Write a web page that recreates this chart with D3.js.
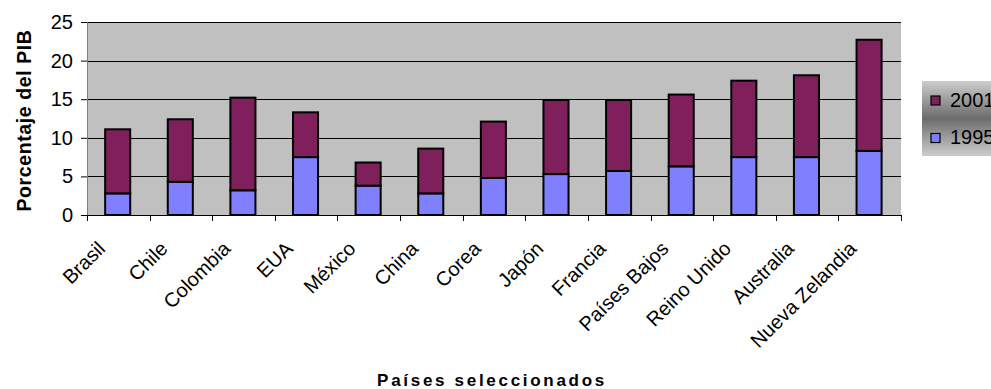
<!DOCTYPE html>
<html>
<head>
<meta charset="utf-8">
<script src="https://cdn.jsdelivr.net/npm/d3@7"></script>
<style>
  html, body { margin: 0; padding: 0; background: #fff; overflow: hidden; }
  svg { display: block; font-family: "Liberation Sans", Arial, sans-serif; }
</style>
</head>
<body>
<svg id="chart" width="991" height="389"></svg>
<script>
// Países y gasto como porcentaje del PIB
const countries = ["Brasil", "Chile", "Colombia", "EUA", "México", "China", "Corea",
  "Japón", "Francia", "Países Bajos", "Reino Unido", "Australia", "Nueva Zelandia"];
// Tramo inferior (1995)
const values1995 = [2.8, 4.3, 3.2, 7.5, 3.8, 2.8, 4.8, 5.3, 5.7, 6.3, 7.5, 7.5, 8.3];
// Tramo superior apilado (2001)
const values2001 = [8.3, 8.1, 12.0, 5.8, 3.0, 5.8, 7.3, 9.6, 9.2, 9.3, 9.9, 10.6, 14.4];
const yTicks = [0, 5, 10, 15, 20, 25];
const seriesKeys = ["1995", "2001"];
const legendOrder = ["2001", "1995"];
const colors = { "1995": "#8080ff", "2001": "#7f1f5c" };

const svg = d3.select("#chart");
const plot = { left: 87, right: 901, top: 22, bottom: 215 };

const rows = countries.map((c, i) => ({ country: c, "1995": values1995[i], "2001": values2001[i] }));
const stacked = d3.stack().keys(seriesKeys)(rows);

const x = d3.scaleBand().domain(countries).range([plot.left, plot.right]).padding(0);
const y = d3.scaleLinear().domain([0, 25]).range([plot.bottom, plot.top]);

// Fondo del área de trazado
svg.append("rect")
  .attr("x", plot.left).attr("y", plot.top)
  .attr("width", plot.right - plot.left).attr("height", plot.bottom - plot.top)
  .attr("fill", "#c0c0c0");

// Líneas de cuadrícula
svg.append("g").selectAll("line").data(yTicks.filter(d => d > 0)).join("line")
  .attr("x1", plot.left).attr("x2", plot.right)
  .attr("y1", d => Math.round(y(d)) + 0.5).attr("y2", d => Math.round(y(d)) + 0.5)
  .attr("stroke", "#000").attr("stroke-width", 1);

// Eje Y
const yAxis = svg.append("g")
  .attr("transform", `translate(${plot.left},0)`)
  .call(d3.axisLeft(y).tickValues(yTicks).tickSize(6).tickPadding(8).tickFormat(d3.format("d")));
yAxis.select(".domain").attr("stroke", "#808080");
yAxis.selectAll(".tick line").attr("stroke", "#000");
yAxis.selectAll(".tick text").attr("font-size", 20).attr("fill", "#000")
  .attr("font-family", "Liberation Sans, Arial, sans-serif");

// Barras apiladas
svg.append("g").selectAll("g").data(stacked).join("g")
  .attr("fill", d => colors[d.key])
  .selectAll("rect").data(d => d).join("rect")
    .attr("x", d => x(d.data.country) + x.bandwidth() * 0.29)
    .attr("width", x.bandwidth() * 0.4)
    .attr("y", d => y(d[1]))
    .attr("height", d => y(d[0]) - y(d[1]))
    .attr("stroke", "#000").attr("stroke-width", 2);

// Eje X
const xAxis = svg.append("g")
  .attr("transform", `translate(0,${plot.bottom})`);
xAxis.append("line")
  .attr("x1", plot.left).attr("x2", plot.right).attr("y1", 0.5).attr("y2", 0.5)
  .attr("stroke", "#000");
const boundaries = countries.map(c => x(c)).concat([plot.right]);
xAxis.selectAll("line.tk").data(boundaries).join("line").attr("class", "tk")
  .attr("x1", d => Math.round(d) + 0.5).attr("x2", d => Math.round(d) + 0.5)
  .attr("y1", 0).attr("y2", 6).attr("stroke", "#000");
xAxis.selectAll("text").data(countries).join("text")
  .attr("transform", d => `translate(${x(d) + x.bandwidth() / 2 - 12},${35}) rotate(-45)`)
  .attr("text-anchor", "end")
  .attr("font-size", 20)
  .attr("fill", "#000")
  .text(d => d);

// Títulos de ejes
svg.append("text")
  .attr("transform", `translate(31,${(plot.top + plot.bottom) / 2 + 2}) rotate(-90)`)
  .attr("text-anchor", "middle")
  .attr("font-size", 19.5).attr("font-weight", "bold")
  .attr("letter-spacing", 0.6)
  .text("Porcentaje del PIB");

svg.append("text")
  .attr("x", 492).attr("y", 386)
  .attr("text-anchor", "middle")
  .attr("font-size", 17).attr("font-weight", "bold")
  .attr("letter-spacing", 2.7)
  .text("Países seleccionados");

// Leyenda
const defs = svg.append("defs");
const grad = defs.append("linearGradient").attr("id", "legendFill")
  .attr("x1", 0).attr("y1", 0).attr("x2", 0).attr("y2", 1);
grad.append("stop").attr("offset", "0%").attr("stop-color", "#cdcdcd");
grad.append("stop").attr("offset", "50%").attr("stop-color", "#6c6c6c");
grad.append("stop").attr("offset", "100%").attr("stop-color", "#cdcdcd");

const legend = svg.append("g").attr("transform", "translate(922,81)");
legend.append("rect").attr("width", 90).attr("height", 75).attr("fill", "url(#legendFill)");
const item = legend.selectAll("g").data(legendOrder).join("g")
  .attr("transform", (d, i) => `translate(9,${15 + i * 37.5})`);
item.append("rect").attr("width", 9).attr("height", 9)
  .attr("fill", d => colors[d]).attr("stroke", "#000").attr("stroke-width", 1.2);
item.append("text").attr("x", 19).attr("y", 10.5)
  .attr("font-size", 20).attr("fill", "#000").text(d => d);
</script>
</body>
</html>
